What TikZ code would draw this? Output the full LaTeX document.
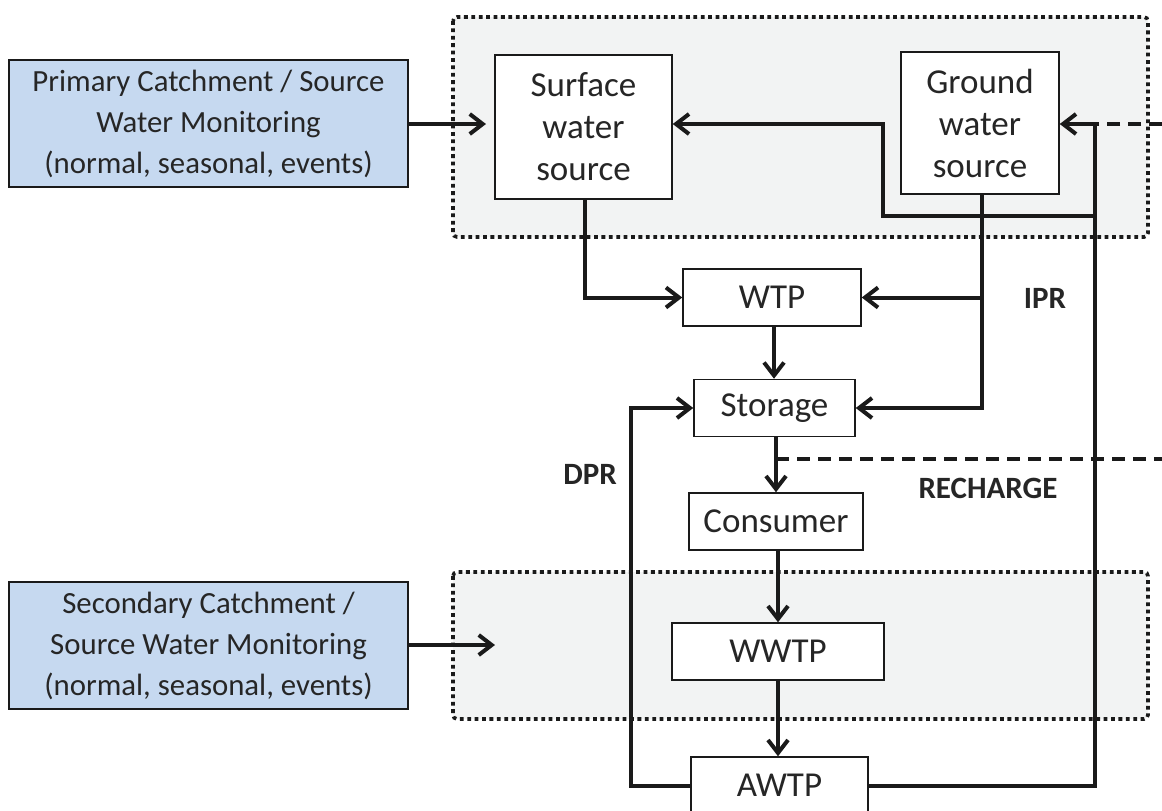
\documentclass[tikz,border=0pt]{standalone}
\usepackage{fontspec}
\setmainfont{Carlito}
\usetikzlibrary{arrows.meta}
\definecolor{monblue}{RGB}{198,217,240}
\definecolor{zonegrey}{RGB}{242,243,243}
\definecolor{ink}{RGB}{26,26,26}
\definecolor{textink}{RGB}{38,38,38}
\tikzset{
  proc/.style={draw=ink, line width=0.75pt, fill=white, align=center, inner sep=0pt,
    text=textink, font=\fontsize{17.5}{21}\selectfont},
  mon/.style={proc, fill=monblue, font=\fontsize{15.4}{20.5}\selectfont},
  zone/.style={draw=ink, fill=zonegrey, line width=1.8pt, dash pattern=on 1.9pt off 1.8pt},
  flow/.style={draw=ink, line width=2pt, -{Straight Barb[length=6.5pt,width=10pt]}},
  feed/.style={draw=ink, line width=2pt, dash pattern=on 6.5pt off 4pt},
  tag/.style={text=textink, font=\fontsize{15.5}{18}\selectfont\bfseries},
}
\begin{document}
\begin{tikzpicture}[x=0.5pt,y=-0.5pt]
\useasboundingbox (0,0) rectangle (1162,810);
\clip (0,0) rectangle (1162,810);

% shaded catchment zones
\draw[zone, rounded corners=2pt] (453,17) rectangle (1148,237);
\draw[zone, rounded corners=2pt] (453,572) rectangle (1148,719);

% monitoring boxes
\node[mon, minimum width=199.5pt, minimum height=63.5pt] (prim) at (208.5,123.5)
  {Primary Catchment / Source\\Water Monitoring\\(normal, seasonal, events)};
\node[mon, minimum width=199.5pt, minimum height=63.5pt] (sec) at (208.5,645.5)
  {Secondary Catchment /\\Source Water Monitoring\\(normal, seasonal, events)};

% water system components
\node[proc, minimum width=88.5pt, minimum height=72pt] (surf) at (583.5,127) {Surface\\water\\source};
\node[proc, minimum width=79pt, minimum height=71pt] (ground) at (980,123) {Ground\\water\\source};
\node[proc, minimum width=89pt, minimum height=28.5pt] (wtp) at (772,297.5) {WTP};
\node[proc, minimum width=80.5pt, minimum height=28.5pt] (storage) at (774.5,408) {Storage};
\node[proc, minimum width=87pt, minimum height=28.5pt] (consumer) at (776,521.5) {Consumer};
\node[proc, minimum width=106pt, minimum height=28.5pt] (wwtp) at (778,651.5) {WWTP};
\node[proc, minimum width=88.5pt, minimum height=28.5pt] (awtp) at (779.5,785.5) {AWTP};

% columns and free ends of connectors
\coordinate (surfcol) at (585,0);
\coordinate (gwcol) at (982,0);
\coordinate (wtpcol) at (774,0);
\coordinate (stcol) at (776,0);
\coordinate (cscol) at (778,0);
\coordinate (primtip) at (486,124);
\coordinate (sectip) at (495,645);
\coordinate (gwin) at (1162,124);
\coordinate (rechin) at (1162,459);
\coordinate (rechout) at (776,459);
\coordinate (ipr) at (1095,124);
\coordinate (iprsplit) at (1095,216);
\coordinate (surfjog) at (883,216);
\coordinate (dpr) at (631,786);
\coordinate (awtpl) at (691,786);
\coordinate (awtpr) at (868,786);

% monitoring inputs
\draw[flow] (prim.east |- primtip) -- (primtip);
\draw[flow] (sec.east |- sectip) -- (sectip);

% treatment train
\draw[flow] (surfcol |- surf.south) |- (wtp.west);
\draw[flow] (gwcol |- ground.south) |- (storage.east);
\draw[flow] (gwcol |- wtp.east) -- (wtp.east);
\draw[flow] (wtpcol |- wtp.south) -- (wtpcol |- storage.north);
\draw[flow] (stcol |- storage.south) -- (stcol |- consumer.north);
\draw[flow] (cscol |- consumer.south) -- (cscol |- wwtp.north);
\draw[flow] (cscol |- wwtp.south) -- (cscol |- awtp.north);

% direct potable reuse
\draw[flow] (awtpl) -- (dpr) |- (storage.west);
% indirect potable reuse
\draw[flow] (awtpr) -| (ipr) -- (ground.east |- ipr);
\draw[flow] (iprsplit) -- (surfjog) |- (surf.east |- ipr);
% recharge
\draw[feed] (gwin) -- (ipr);
\draw[feed] (rechout) -- (rechin);

% labels
\node[tag] (iprlbl) at (1045,298) {IPR};
\node[tag] (dprlbl) at (590,474) {DPR};
\node[tag] (rechlbl) at (988,488) {RECHARGE};
\end{tikzpicture}
\end{document}
